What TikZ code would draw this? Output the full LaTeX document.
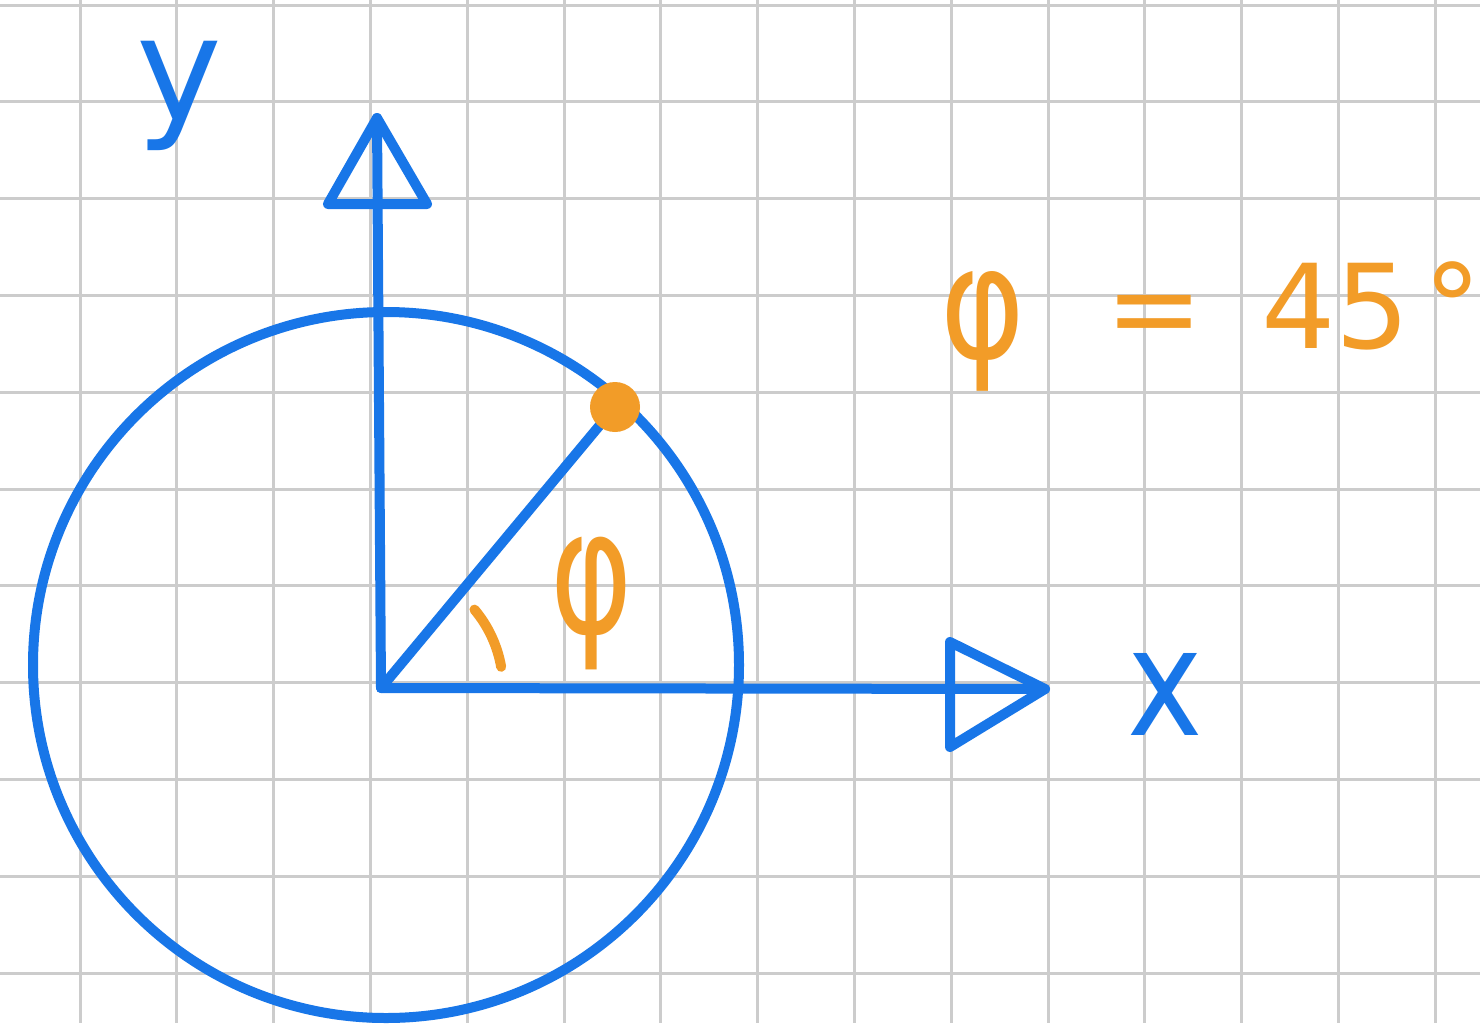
\documentclass[tikz,border=0pt]{standalone}
\usepackage{fontspec}
\setmainfont{DejaVu Sans}
\definecolor{penblue}{RGB}{24,118,232}
\definecolor{penorange}{RGB}{242,156,40}
\definecolor{gridgray}{RGB}{204,204,204}
\begin{document}
\begin{tikzpicture}[x=1pt,y=-1pt,
  gridline/.style={draw=gridgray,line width=3pt},
  bluepen/.style={draw=penblue,line width=10pt,line cap=round,line join=round},
  orangepen/.style={draw=penorange,line width=10pt,line cap=round,line join=round},
  lbl/.style={inner sep=0pt,outer sep=0pt,anchor=base}]
\useasboundingbox (0,0) rectangle (1480,1023);
\clip (0,0) rectangle (1480,1023);
\fill[white] (0,0) rectangle (1480,1023);
\foreach \k in {-1,...,14} \draw[gridline] ({80+96.8*\k},0) -- ({80+96.8*\k},1023);
\foreach \k in {0,...,10} \draw[gridline] (0,{5+96.8*\k}) -- (1480,{5+96.8*\k});
% key points
\coordinate (O) at (381,688);
\coordinate (C) at (386,665);
\coordinate (Ytip) at (377,118);
\coordinate (YbL) at (328,204);
\coordinate (YbR) at (427,204);
\coordinate (Xtip) at (1045,689);
\coordinate (XbT) at (950,642);
\coordinate (XbB) at (950,747);
\coordinate (Pc) at (615,407);
% circle and axes
\draw[bluepen] (C) circle[radius=353];
\draw[bluepen] (O) -- (Ytip);
\draw[bluepen] (O) -- (Xtip);
\draw[bluepen] (Ytip) -- (YbL) -- (YbR) -- cycle;
\draw[bluepen] (Xtip) -- (XbT) -- (XbB) -- cycle;
% radius and point
\draw[bluepen] (O) -- (Pc);
\node[circle,fill=penorange,minimum size=50pt,inner sep=0pt] (P) at (Pc) {};
% angle mark
\draw[orangepen] (O) ++(-40:122) arc[start angle=-40,end angle=-10,radius=122];
% labels
\node[lbl,text=penblue,font=\fontsize{145}{145}\selectfont] (ylab) at (179,120) {y};
\node[lbl,text=penblue,font=\fontsize{150}{150}\selectfont,xscale=0.85] (xlab) at (1165,735) {x};
\node[lbl,text=penorange,font=\fontsize{125}{125}\selectfont] (philab) at (592,633) {\scalebox{1}[1.4]{φ}};
\node[inner sep=0pt,anchor=base west,text=penorange,font=\fontsize{117}{117}\selectfont] (eq) at (940,348) {\raisebox{-10pt}{\scalebox{1.1}[1.35]{φ}}\hspace{80pt}=\hspace{58pt}45\hspace{14pt}°};
\end{tikzpicture}
\end{document}
